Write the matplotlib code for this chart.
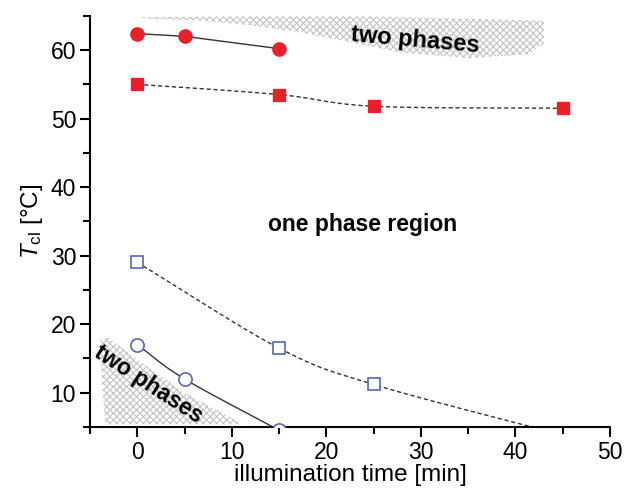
import numpy as np
import matplotlib
matplotlib.use("Agg")
import matplotlib.pyplot as plt
from matplotlib.patches import Polygon
from matplotlib.ticker import MultipleLocator

plt.rcParams['font.family'] = ['Liberation Sans', 'DejaVu Sans']
plt.rcParams['mathtext.fontset'] = 'custom'
plt.rcParams['mathtext.it'] = 'Liberation Sans:italic'
plt.rcParams['mathtext.rm'] = 'Liberation Sans'
plt.rcParams['hatch.linewidth'] = 0.8

# data
t_red_circ = [0, 5, 15]
T_red_circ = [62.4, 62.0, 60.2]
t_red_sq = [0, 15, 25, 45]
T_red_sq = [55.0, 53.5, 51.8, 51.5]
t_blue_sq = [0, 15, 25, 45]
T_blue_sq = [29.0, 16.5, 11.2, 3.8]
t_blue_circ = [0, 5, 15]
T_blue_circ = [17.0, 12.0, 4.5]

# shaded two-phase regions (outline)
top_region_x = [0.5, 10, 25, 43.0, 43.0, 41.5, 35.2, 28.0, 22.0, 17.2, 12.0, 6.7, 0.5]
top_region_y = [64.8, 64.9, 64.9, 64.3, 61.0, 59.4, 58.8, 59.6, 61.3, 62.6, 63.6, 64.3, 64.6]
bot_region_x = [-3.9, -3.0, 0.0, 5.0, 11.2, -3.4, -3.8]
bot_region_y = [17.8, 18.0, 14.8, 10.0, 5.4, 5.4, 13.0]

red = '#e8202a'
blue = '#5566b8'
lc = '#333333'


def smooth(x, y, n=30):
    x = np.asarray(x, float)
    y = np.asarray(y, float)
    px = np.concatenate([[2 * x[0] - x[1]], x, [2 * x[-1] - x[-2]]])
    py = np.concatenate([[2 * y[0] - y[1]], y, [2 * y[-1] - y[-2]]])
    xs, ys = [], []
    for i in range(1, len(px) - 2):
        s = np.linspace(0, 1, n)
        p0, p1, p2, p3 = [np.array([px[j], py[j]]) for j in range(i - 1, i + 3)]
        pts = 0.5 * ((2 * p1)[:, None] + (-p0 + p2)[:, None] * s
                     + (2 * p0 - 5 * p1 + 4 * p2 - p3)[:, None] * s ** 2
                     + (-p0 + 3 * p1 - 3 * p2 + p3)[:, None] * s ** 3)
        xs.extend(pts[0]); ys.extend(pts[1])
    return xs, ys


fig = plt.figure(figsize=(6.25, 4.93), dpi=100)
ax = fig.add_axes([0.144, 0.134, 0.832, 0.834])

ax.add_patch(Polygon(np.column_stack([top_region_x, top_region_y]), closed=True,
                     facecolor='none', edgecolor='#c4c4c4', hatch='xxxxx', linewidth=0, zorder=1))
ax.add_patch(Polygon(np.column_stack([bot_region_x, bot_region_y]), closed=True,
                     facecolor='none', edgecolor='#c4c4c4', hatch='xxxxx', linewidth=0, zorder=1))

ax.plot(t_red_circ, T_red_circ, '-', color=lc, lw=1.0, zorder=2)
sx, sy = smooth(t_red_sq, T_red_sq)
ax.plot(sx, sy, '--', color=lc, lw=1.0, dashes=(3, 2), zorder=2)
sx, sy = smooth(t_blue_sq, T_blue_sq)
ax.plot(sx, sy, '--', color=lc, lw=1.0, dashes=(3, 2), zorder=2)
sx, sy = smooth(t_blue_circ, T_blue_circ)
ax.plot(sx, sy, '-', color=lc, lw=1.0, zorder=2)

ax.plot(t_red_circ, T_red_circ, 'o', ms=9.5, color=red, mec=red, ls='none', zorder=3)
ax.plot(t_red_sq, T_red_sq, 's', ms=8.5, color=red, mec=red, ls='none', zorder=3)
ax.plot(t_blue_sq, T_blue_sq, 's', ms=8.5, mfc='white', mec=blue, mew=1.2, ls='none', zorder=3)
ax.plot(t_blue_circ, T_blue_circ, 'o', ms=9.5, mfc='white', mec=blue, mew=1.2, ls='none', zorder=3)

ax.text(29.4, 61.5, 'two phases', fontsize=17, fontweight='bold', rotation=-5,
        ha='center', va='center', zorder=4)
ax.text(1.2, 11.2, 'two phases', fontsize=16.5, fontweight='bold', rotation=-33,
        ha='center', va='center', zorder=4)
ax.text(23.8, 34.6, 'one phase region', fontsize=16.5, fontweight='bold',
        ha='center', va='center', zorder=4)

ax.set_xlim(-5, 50)
ax.set_ylim(5, 65)
ax.xaxis.set_major_locator(MultipleLocator(10))
ax.xaxis.set_minor_locator(MultipleLocator(5))
ax.yaxis.set_major_locator(MultipleLocator(10))
ax.yaxis.set_minor_locator(MultipleLocator(5))
for s in ['top', 'right']:
    ax.spines[s].set_visible(False)
for s in ['left', 'bottom']:
    ax.spines[s].set_linewidth(1.5)
ax.tick_params(which='major', direction='out', length=7, width=1.5, labelsize=16.5, pad=3)
ax.tick_params(which='minor', direction='out', length=5, width=1.5)

ax.set_xlabel('illumination time [min]', fontsize=17.5, labelpad=0)
ax.set_ylabel(r'$T_{\mathrm{cl}}$ [°C]', fontsize=17.5, labelpad=4)

fig.savefig('out.png', dpi=100)
